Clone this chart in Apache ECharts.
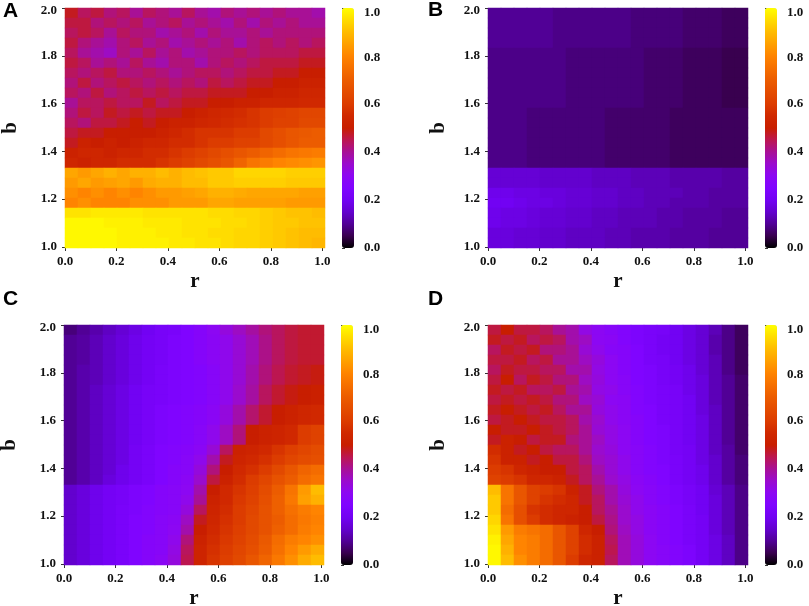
<!DOCTYPE html>
<html><head><meta charset="utf-8">
<style>html,body{margin:0;padding:0;background:#fff}#c{width:809px;height:606px}</style>
<script src="https://cdn.jsdelivr.net/npm/echarts@6/dist/echarts.min.js"></script>
</head><body><div id="c"></div>
<script>
// Values in percent. Rows run from b=2.0 (top) to b=1.0 (bottom), columns from r=0 to r=1.
const panelA=[
[48,44,46,42,44,40,44,42,40,44,40,38,42,40,42,40,42,40,40,38],
[46,46,42,44,42,44,40,42,44,40,42,40,38,42,38,42,40,42,40,40],
[44,46,44,40,44,42,42,38,40,42,38,42,40,40,42,40,42,42,42,42],
[46,42,40,38,42,44,40,42,38,40,42,40,42,38,42,44,42,44,42,44],
[44,40,38,36,42,40,44,40,42,38,40,42,42,44,42,44,44,44,46,46],
[46,44,40,42,40,44,40,38,42,42,38,42,44,42,44,46,46,46,48,48],
[44,42,44,46,42,42,44,42,40,42,44,44,42,44,46,46,48,48,50,50],
[42,46,42,44,46,44,42,44,42,44,42,46,44,46,48,48,50,50,52,52],
[44,42,46,42,44,46,44,46,44,46,46,48,48,48,50,50,52,52,54,54],
[40,44,44,46,44,44,48,44,46,48,48,50,50,52,52,54,54,54,55,55],
[42,46,44,48,46,48,46,48,48,50,52,54,55,56,58,60,61,62,63,63],
[44,42,46,46,48,50,48,50,52,52,54,55,56,57,58,60,62,62,64,64],
[46,48,48,50,50,50,50,52,54,56,58,58,58,60,60,64,66,68,69,70],
[48,52,50,52,50,52,54,54,56,56,58,60,60,62,62,64,66,68,70,70],
[52,54,54,52,54,54,56,56,58,60,62,64,66,68,70,72,74,76,77,78],
[54,52,54,54,56,56,56,58,60,62,64,66,68,72,76,78,80,81,82,83],
[86,84,86,88,86,88,88,90,88,90,91,92,92,94,94,94,94,93,93,93],
[84,86,84,85,86,84,87,88,88,90,90,92,92,93,93,93,93,92,92,92],
[82,80,82,80,82,80,82,84,84,85,86,88,88,87,86,86,86,86,85,85],
[80,82,80,80,80,82,82,82,84,84,84,86,86,85,85,85,85,84,84,84],
[96,96,97,97,97,97,96,96,96,96,96,95,95,94,94,93,92,91,91,90],
[99,99,99,98,98,98,97,97,97,96,96,96,95,95,94,93,92,92,91,91],
[99,99,99,99,98,98,98,97,97,96,96,95,95,94,94,93,92,91,90,90],
[99,99,99,99,98,98,98,98,97,97,96,96,95,94,94,93,92,91,90,89]];
const panelB=[
[10,10,10,10,10,9,9,9,9,9,9,8,8,8,8,7,7,7,6,6],
[10,10,10,10,10,9,9,9,9,9,9,8,8,8,8,7,7,7,6,6],
[10,10,10,10,10,9,9,9,9,9,9,8,8,8,8,7,7,7,6,6],
[10,10,10,10,10,9,9,9,9,9,9,8,8,8,8,7,7,7,6,6],
[9,9,9,9,9,9,8,8,8,8,8,8,7,7,7,6,6,6,5,5],
[9,9,9,9,9,9,8,8,8,8,8,8,7,7,7,6,6,6,5,5],
[9,9,9,9,9,9,8,8,8,8,8,8,7,7,7,6,6,6,5,5],
[9,9,9,9,9,9,8,8,8,8,8,8,7,7,7,6,6,6,5,5],
[9,9,9,9,9,9,8,8,8,8,8,8,7,7,7,6,6,6,5,5],
[9,9,9,9,9,9,8,8,8,8,8,8,7,7,7,6,6,6,5,5],
[9,9,9,8,8,8,8,8,8,7,7,7,7,7,6,6,6,6,6,6],
[9,9,9,8,8,8,8,8,8,7,7,7,7,7,6,6,6,6,6,6],
[9,9,9,8,8,8,8,8,8,7,7,7,7,7,6,6,6,6,6,6],
[9,9,9,8,8,8,8,8,8,7,7,7,7,7,6,6,6,6,6,6],
[9,9,9,8,8,8,8,8,8,7,7,7,7,7,6,6,6,6,6,6],
[9,9,9,8,8,8,8,8,8,7,7,7,7,7,6,6,6,6,6,6],
[16,16,16,16,15,15,15,15,14,14,14,13,13,13,12,12,12,12,11,11],
[16,16,16,16,15,15,15,15,14,14,14,13,13,13,12,12,12,12,11,11],
[19,19,18,18,17,17,16,16,15,15,14,14,13,13,13,12,12,11,11,11],
[20,20,19,18,18,17,16,16,15,15,14,14,13,13,12,12,12,11,11,11],
[19,18,18,17,16,16,15,15,14,14,13,13,13,12,12,11,11,11,10,10],
[19,18,18,17,16,16,15,15,14,14,13,13,13,12,12,11,11,11,10,10],
[17,17,16,16,15,15,14,14,14,13,13,12,12,12,11,11,11,10,10,10],
[17,17,16,16,15,15,14,14,14,13,13,12,12,12,11,11,11,10,10,10]];
const panelC=[
[8,10,12,14,16,18,20,22,23,25,27,30,33,36,39,42,44,46,47,47],
[10,11,13,15,17,19,21,22,24,25,27,29,31,34,37,41,44,46,47,47],
[10,11,13,15,17,19,21,22,24,25,27,29,31,34,37,41,44,46,47,47],
[10,11,13,15,17,19,21,22,24,25,27,29,31,34,37,41,44,46,47,47],
[10,12,13,15,17,19,21,23,24,25,26,28,31,34,38,42,45,47,48,49],
[10,12,13,15,17,19,21,23,24,25,26,28,31,34,38,42,45,47,48,49],
[10,12,14,16,18,20,22,23,24,25,26,28,31,35,39,44,47,49,50,51],
[10,12,14,16,18,20,22,23,24,25,26,28,31,35,39,44,47,49,50,51],
[10,12,14,16,18,20,22,24,25,26,27,29,33,38,43,47,50,52,54,55],
[10,12,14,16,18,20,22,24,25,26,27,29,33,38,43,47,50,52,54,55],
[10,12,14,16,18,20,22,24,25,26,28,31,36,42,50,52,53,55,60,62],
[10,12,14,16,18,20,22,24,25,26,28,31,36,42,50,52,53,55,60,62],
[10,12,14,16,18,21,23,25,26,27,29,34,44,52,53,55,58,61,63,65],
[10,12,14,16,18,21,23,25,26,28,31,38,48,53,55,57,60,63,65,66],
[10,12,14,16,19,21,23,25,27,28,33,42,50,55,57,60,64,68,72,74],
[10,12,14,17,19,21,23,25,27,29,35,46,52,56,60,63,67,70,74,76],
[15,17,19,21,22,24,25,27,28,30,38,50,55,58,61,65,70,76,84,90],
[15,17,19,21,22,24,25,27,28,31,40,52,55,59,62,66,71,77,85,88],
[15,17,19,21,23,24,26,27,28,33,44,53,56,60,63,67,71,75,78,80],
[15,17,19,21,23,25,26,28,29,36,48,54,57,60,64,67,70,74,77,79],
[15,17,19,21,23,25,26,28,30,38,50,55,58,61,64,67,71,74,78,80],
[15,17,19,21,23,25,27,28,31,42,52,56,59,62,65,69,74,78,80,82],
[15,17,19,21,23,25,27,28,32,44,53,57,60,63,66,70,75,80,84,87],
[15,17,19,21,23,25,27,29,33,45,53,58,61,64,68,72,77,82,87,90]];
const panelD=[
[46,50,46,46,44,40,38,32,30,28,26,24,23,22,20,18,16,13,9,6],
[48,46,48,44,46,44,38,36,30,29,26,24,23,21,20,18,16,12,9,6],
[44,48,46,48,42,42,40,34,31,28,27,25,23,21,20,18,16,12,9,6],
[46,46,48,44,46,40,40,36,33,30,27,25,23,22,20,18,16,13,9,6],
[44,48,46,46,44,44,38,38,32,30,27,25,24,22,21,19,16,13,9,6],
[46,50,44,48,46,42,42,36,33,30,28,25,24,22,21,19,17,13,10,7],
[48,46,48,44,44,46,40,38,32,31,28,26,24,23,22,19,17,13,10,7],
[46,48,46,48,46,42,42,36,34,30,29,26,24,23,22,20,17,13,10,7],
[48,50,48,46,48,44,40,40,33,31,29,26,25,23,22,20,17,14,10,7],
[46,48,50,48,46,46,44,38,35,31,29,27,25,23,22,20,18,14,10,7],
[50,48,48,50,48,46,44,40,34,32,30,27,25,24,22,20,18,14,10,7],
[48,52,50,46,48,48,42,40,36,32,30,27,25,24,22,20,18,14,10,7],
[56,52,48,50,46,44,44,40,35,33,30,28,26,24,22,21,18,14,11,7],
[58,52,52,48,50,46,46,42,36,34,31,28,26,24,23,21,18,15,11,8],
[60,58,54,52,50,50,46,44,38,34,31,28,26,25,23,21,19,15,11,8],
[62,60,58,54,54,52,48,44,40,35,32,29,27,25,23,21,19,15,11,8],
[90,76,68,62,60,58,52,48,42,38,33,30,28,26,24,22,20,16,13,9],
[92,76,68,62,58,56,54,48,44,38,34,31,28,26,24,22,20,17,13,9],
[92,74,66,58,56,54,54,50,44,40,35,31,29,27,25,23,20,17,13,9],
[94,76,66,60,56,54,52,50,46,41,35,32,29,27,25,23,21,17,13,9],
[96,84,78,76,74,68,62,54,50,42,36,32,29,27,25,23,21,17,13,9],
[98,86,80,78,74,68,62,56,52,44,37,33,30,27,25,23,21,18,14,9],
[99,88,80,78,74,68,62,56,52,45,37,33,30,28,26,24,21,18,14,9],
[99,90,82,78,74,68,60,54,52,44,37,33,30,28,26,24,21,18,14,9]];
const rTicks=[0,0.2,0.4,0.6,0.8,1.0];
const bTicks=[1.0,1.2,1.4,1.6,1.8,2.0];
const barTicks=[0,0.2,0.4,0.6,0.8,1.0];
const panelNames=['A','B','C','D'];
const panelValues=[panelA,panelB,panelC,panelD];

const ramp=['#000000','#39004f','#510096','#6301ce','#7202f3','#8004ff','#8c07f3','#9a0bce','#a81096','#bc1650','#c81e00','#d02800','#dc3c00','#e44c00','#ec5c00','#f67000','#ff8400','#ffa000','#ffbc00','#ffdc00','#ffff00'];
const boxes=[
 {l:65,t:8,w:260,h:240,bl:342,nl:3,nt:1,ng:44},
 {l:488,t:8,w:260,h:240,bl:765,nl:428,nt:0,ng:39},
 {l:64,t:325,w:260,h:240,bl:341,nl:3,nt:289,ng:44},
 {l:488,t:325,w:260,h:240,bl:765,nl:428,nt:289,ng:39}];
const serif='"Liberation Serif","Times New Roman",serif';
const tickFont={fontFamily:serif,fontWeight:'bold',fontSize:13,color:'#111'};
const fmt=v=>Number(v).toFixed(1);
// The top labels sit slightly under their ticks in the reference.
const bLabelAt=[1.0,1.2,1.4,1.6,1.8,1.9875];
const barLabelAt=[0,0.2,0.4,0.6,0.792,0.979];
const grid=[],xAxis=[],yAxis=[],series=[],visualMap=[],title=[];
boxes.forEach((b,p)=>{
  const rows=panelValues[p];
  const nr=rows.length;
  grid.push({left:b.l,top:b.t,width:b.w,height:b.h,containLabel:false,outerBoundsMode:'none'});
  const xi=xAxis.length,yi=yAxis.length;
  xAxis.push({type:'category',gridIndex:p,data:rows[0].map((_,i)=>i),show:false});
  yAxis.push({type:'category',gridIndex:p,data:rows.map((_,i)=>i),show:false});
  xAxis.push({type:'value',gridIndex:p,min:0,max:1.01,position:'bottom',
    name:'r',nameLocation:'middle',nameGap:23,nameTextStyle:{fontFamily:serif,fontWeight:'bold',fontSize:21,color:'#111'},
    axisLine:{show:false},splitLine:{show:false},
    axisTick:{show:true,length:3,customValues:rTicks,lineStyle:{color:'#333'}},
    axisLabel:{customValues:rTicks,formatter:fmt,margin:7,...tickFont}});
  yAxis.push({type:'value',gridIndex:p,min:0.995,max:2,position:'left',
    name:'b',nameLocation:'middle',nameGap:b.ng,nameTextStyle:{fontFamily:serif,fontWeight:'bold',fontSize:21,color:'#111'},
    axisLine:{show:false},splitLine:{show:false},
    axisTick:{show:true,length:3,customValues:bTicks,lineStyle:{color:'#333'}},
    axisLabel:{customValues:bLabelAt,formatter:fmt,margin:8,...tickFont}});
  const data=[];
  rows.forEach((row,k)=>row.forEach((v,i)=>data.push([i,nr-1-k,v/100])));
  series.push({name:panelNames[p],type:'heatmap',xAxisIndex:xi,yAxisIndex:yi,data,progressive:0,silent:true,emphasis:{disabled:true}});
  visualMap.push({type:'continuous',seriesIndex:p,min:0,max:1,calculable:false,show:true,realtime:false,
    left:b.bl,top:b.t,itemWidth:12,itemHeight:b.h,padding:0,text:['',''],showLabel:false,inRange:{color:ramp}});
  title.push({text:panelNames[p],left:b.nl,top:b.nt,padding:0,textStyle:{fontFamily:'"Liberation Sans",Arial,sans-serif',fontWeight:'bold',fontSize:21,color:'#000'}});
});
boxes.forEach((b,p)=>{
  const g=grid.length;
  grid.push({left:b.bl,top:b.t,width:12,height:b.h,containLabel:false,outerBoundsMode:'none'});
  xAxis.push({type:'value',gridIndex:g,min:0,max:1,show:false});
  yAxis.push({type:'value',gridIndex:g,min:0,max:1,position:'right',
    axisLine:{show:false},splitLine:{show:false},
    axisTick:{show:true,length:3,customValues:barTicks,lineStyle:{color:'#333'}},
    axisLabel:{customValues:barLabelAt,formatter:fmt,margin:10,...tickFont}});
});
const chart=echarts.init(document.getElementById('c'),null,{renderer:'canvas'});
chart.setOption({backgroundColor:'#fff',animation:false,title,grid,xAxis,yAxis,visualMap,series});
</script></body></html>
